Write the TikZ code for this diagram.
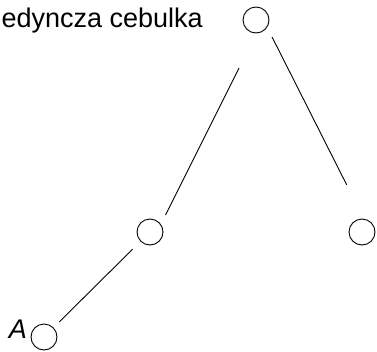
\documentclass[tikz,border=0pt]{standalone}
\usepackage{fontspec}
\setmainfont{Liberation Sans}
\usepackage{tikz}

\tikzset{
    bulb/.style={draw, circle, minimum size=26pt, inner sep=0pt, line width=0.9pt},
    branch/.style={line width=0.9pt},
}

\begin{document}
\begin{tikzpicture}[x=1pt, y=-1pt, font=\fontsize{27}{32}\selectfont]
    \clip (0,0) rectangle (377,351);
    % Bulbs
    \node[bulb] (top) at (256,20) {};
    \node[bulb] (mid) at (150,232) {};
    \node[bulb] (right) at (362,232) {};
    \node[bulb] (low) at (44,337) {};
    % Labels
    \node[anchor=base east, inner sep=0pt] (lbl) at (203,27) {pojedyncza cebulka};
    \node[anchor=base east, inner sep=0pt, font=\fontsize{27}{32}\selectfont\itshape] (a) at (27,338) {A};
    % Branches
    \draw[branch, shorten <=53.7pt, shorten >=19pt] ([xshift=7pt]top.center) -- ([xshift=7pt]mid.center);
    \draw[branch, shorten <=19pt, shorten >=52.8pt] ([xshift=7.5pt]top.center) -- ([xshift=8.5pt]right.center);
    \draw[branch, shorten <=24.4pt, shorten >=21.5pt] (mid.center) -- (low.center);
\end{tikzpicture}
\end{document}
